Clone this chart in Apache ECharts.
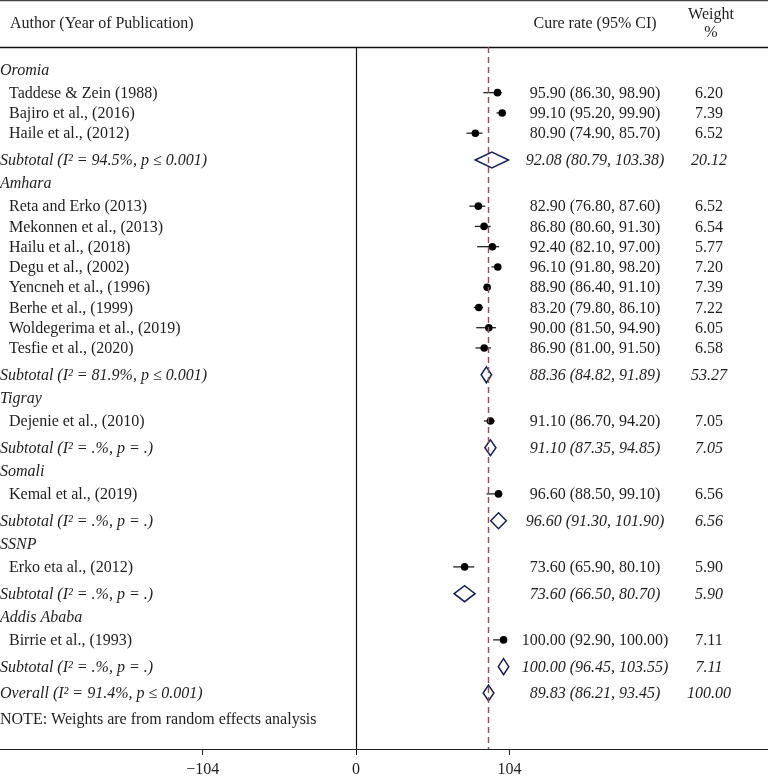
<!DOCTYPE html>
<html>
<head>
<meta charset="utf-8">
<script src="https://cdn.jsdelivr.net/npm/echarts@6/dist/echarts.min.js"></script>
<style>
  html, body { margin: 0; padding: 0; background: #fff; }
  #chart { width: 768px; height: 778px; }
</style>
</head>
<body>
<div id="chart"></div>
<script>
// subgroup names
const groups = ['Oromia', 'Amhara', 'Tigray', 'Somali', 'SSNP', 'Addis Ababa'];

// individual studies
const studyNames = [
  'Taddese & Zein (1988)', 'Bajiro et al., (2016)', 'Haile et al., (2012)',
  'Reta and Erko (2013)', 'Mekonnen et al., (2013)', 'Hailu et al., (2018)', 'Degu et al., (2002)',
  'Yencneh et al., (1996)', 'Berhe et al., (1999)', 'Woldegerima et al., (2019)', 'Tesfie et al., (2020)',
  'Dejenie et al., (2010)',
  'Kemal et al., (2019)',
  'Erko eta al., (2012)',
  'Birrie et al., (1993)'
];
const studyGroup = [0, 0, 0, 1, 1, 1, 1, 1, 1, 1, 1, 2, 3, 4, 5];
const studyES   = [95.90, 99.10, 80.90, 82.90, 86.80, 92.40, 96.10, 88.90, 83.20, 90.00, 86.90, 91.10, 96.60, 73.60, 100.00];
const studyLow  = [86.30, 95.20, 74.90, 76.80, 80.60, 82.10, 91.80, 86.40, 79.80, 81.50, 81.00, 86.70, 88.50, 65.90, 92.90];
const studyHigh = [98.90, 99.90, 85.70, 87.60, 91.30, 97.00, 98.20, 91.10, 86.10, 94.90, 91.50, 94.20, 99.10, 80.10, 100.00];
const studyWeight = [6.20, 7.39, 6.52, 6.52, 6.54, 5.77, 7.20, 7.39, 7.22, 6.05, 6.58, 7.05, 6.56, 5.90, 7.11];

// subgroup pooled estimates
const subES   = [92.08, 88.36, 91.10, 96.60, 73.60, 100.00];
const subLow  = [80.79, 84.82, 87.35, 91.30, 66.50, 96.45];
const subHigh = [103.38, 91.89, 94.85, 101.90, 80.70, 103.55];
const subWeight = [20.12, 53.27, 7.05, 6.56, 5.90, 7.11];
const subI2 = ['94.5%', '81.9%', '.%', '.%', '.%', '.%'];
const subP  = ['≤ 0.001', '≤ 0.001', '= .', '= .', '= .', '= .'];

// overall
const overallES = 89.83, overallLow = 86.21, overallHigh = 93.45, overallWeight = 100.00;
const overallI2 = '91.4%', overallP = '≤ 0.001';

const xTicks = [-104, 0, 104];

// row layout (vertical gaps between rows, px)
const GAP = { group: 23, first: 23.5, study: 20.4, subtotal: 27, overall: 26.5, note: 26 };
const rows = [];
let pos = 22.5;
groups.forEach((g, gi) => {
  if (gi > 0) pos += GAP.group;
  rows.push({ type: 'group', y: pos, text: g });
  let first = true;
  studyNames.forEach((n, i) => {
    if (studyGroup[i] !== gi) return;
    pos += first ? GAP.first : GAP.study;
    first = false;
    rows.push({ type: 'study', y: pos, i: i });
  });
  pos += GAP.subtotal;
  rows.push({ type: 'subtotal', y: pos, i: gi });
});
pos += GAP.overall;
rows.push({ type: 'overall', y: pos });
pos += GAP.note;
rows.push({ type: 'note', y: pos });

const f2 = v => v.toFixed(2);
const FONT = '"Liberation Serif", "DejaVu Serif", serif';
const FS = 16;
const INK = '#1e1e1e';

const studyData = [];
const subData = [];
rows.forEach(r => {
  if (r.type === 'study') studyData.push([studyLow[r.i], studyES[r.i], studyHigh[r.i], r.y]);
  if (r.type === 'subtotal') subData.push([subLow[r.i], subES[r.i], subHigh[r.i], r.y]);
  if (r.type === 'overall') subData.push([overallLow, overallES, overallHigh, r.y]);
});

function rowTexts(r) {
  if (r.type === 'group') return { left: r.text, italic: true, indent: 0 };
  if (r.type === 'study') {
    const i = r.i;
    return { left: studyNames[i], indent: 9, italic: false,
      est: f2(studyES[i]) + ' (' + f2(studyLow[i]) + ', ' + f2(studyHigh[i]) + ')',
      w: f2(studyWeight[i]) };
  }
  if (r.type === 'subtotal') {
    const i = r.i;
    return { left: 'Subtotal (I² = ' + subI2[i] + ', p ' + subP[i] + ')', indent: 0, italic: true,
      est: f2(subES[i]) + ' (' + f2(subLow[i]) + ', ' + f2(subHigh[i]) + ')',
      w: f2(subWeight[i]) };
  }
  if (r.type === 'overall') {
    return { left: 'Overall (I² = ' + overallI2 + ', p ' + overallP + ')', indent: 0, italic: true,
      est: f2(overallES) + ' (' + f2(overallLow) + ', ' + f2(overallHigh) + ')',
      w: f2(overallWeight) };
  }
  return { left: 'NOTE: Weights are from random effects analysis', indent: 0, italic: false };
}

const chart = echarts.init(document.getElementById('chart'));

const option = {
  animation: false,
  grid: { left: 0, right: 0, top: 47, bottom: 24 },
  xAxis: [{
    type: 'value',
    min: -241.4,
    max: 279.3,
    splitLine: { show: false },
    axisLine: { show: true, onZero: false, lineStyle: { color: '#222', width: 1.2 } },
    axisTick: { show: true, length: 6, customValues: xTicks, lineStyle: { color: '#222' } },
    axisLabel: {
      customValues: xTicks,
      fontFamily: FONT, fontSize: FS, color: INK, margin: 13,
      formatter: v => (v < 0 ? '\u2212' + Math.abs(v) : String(v))
    }
  }, {
    type: 'value',
    position: 'top',
    min: -241.4,
    max: 279.3,
    splitLine: { show: false },
    axisLine: { show: true, onZero: false, lineStyle: { color: '#111', width: 1.3 } },
    axisTick: { show: false },
    axisLabel: { show: false }
  }],
  yAxis: {
    type: 'value', inverse: true, min: 0, max: 707, show: false
  },
  graphic: [{
    type: 'line',
    shape: { x1: 0, y1: 0.5, x2: 768, y2: 0.5 },
    style: { stroke: '#444', lineWidth: 1.5 }
  }, {
    type: 'text', x: 10, y: 24,
    style: { text: 'Author (Year of Publication)', font: FS + 'px ' + FONT, fill: INK, verticalAlign: 'middle' }
  }, {
    type: 'text', x: 595, y: 24,
    style: { text: 'Cure rate (95% CI)', font: FS + 'px ' + FONT, fill: INK, align: 'center', verticalAlign: 'middle' }
  }, {
    type: 'text', x: 711, y: 15,
    style: { text: 'Weight', font: FS + 'px ' + FONT, fill: INK, align: 'center', verticalAlign: 'middle' }
  }, {
    type: 'text', x: 711, y: 33,
    style: { text: '%', font: FS + 'px ' + FONT, fill: INK, align: 'center', verticalAlign: 'middle' }
  }],
  series: [{
    name: 'studies',
    type: 'custom',
    data: studyData,
    encode: { x: [0, 1, 2], y: 3 },
    renderItem: (params, api) => {
      const y = api.value(3);
      const a = api.coord([api.value(0), y]);
      const m = api.coord([api.value(1), y]);
      const b = api.coord([api.value(2), y]);
      return {
        type: 'group',
        children: [{
          type: 'line',
          shape: { x1: a[0], y1: a[1], x2: b[0], y2: b[1] },
          style: { stroke: '#222', lineWidth: 1.3 }
        }, {
          type: 'circle',
          shape: { cx: m[0], cy: m[1], r: 3.8 },
          style: { fill: '#000' }
        }]
      };
    },
    markLine: {
      silent: true,
      symbol: 'none',
      label: { show: false },
      data: [
        { xAxis: 0, lineStyle: { color: '#111', width: 1.2, type: 'solid' } },
        { xAxis: overallES, lineStyle: { color: '#84565b', width: 1.4, type: [6, 4] } }
      ]
    }
  }, {
    name: 'pooled',
    type: 'custom',
    data: subData,
    encode: { x: [0, 1, 2], y: 3 },
    renderItem: (params, api) => {
      const y = api.value(3);
      const a = api.coord([api.value(0), y]);
      const m = api.coord([api.value(1), y]);
      const b = api.coord([api.value(2), y]);
      const h = 8;
      return {
        type: 'polygon',
        shape: { points: [[a[0], a[1]], [m[0], m[1] - h], [b[0], b[1]], [m[0], m[1] + h]] },
        style: { fill: '#fff', stroke: '#1c1f52', lineWidth: 1.5 }
      };
    }
  }, {
    name: 'text',
    type: 'custom',
    data: rows.map((r, k) => [r.y, k]),
    encode: { y: 0 },
    renderItem: (params, api) => {
      const r = rows[api.value(1)];
      const t = rowTexts(r);
      const y = api.coord([0, api.value(0)])[1] + 1;
      const style = t.italic ? 'italic ' : '';
      const font = style + FS + 'px ' + FONT;
      const kids = [{
        type: 'text', x: t.indent, y: y,
        style: { text: t.left, font: font, fill: INK, verticalAlign: 'middle' }
      }];
      if (t.est) {
        kids.push({
          type: 'text', x: 595, y: y,
          style: { text: t.est, font: font, fill: INK, align: 'center', verticalAlign: 'middle' }
        });
        kids.push({
          type: 'text', x: 709, y: y,
          style: { text: t.w, font: font, fill: INK, align: 'center', verticalAlign: 'middle' }
        });
      }
      return { type: 'group', children: kids };
    }
  }]
};

chart.setOption(option);
</script>
</body>
</html>
